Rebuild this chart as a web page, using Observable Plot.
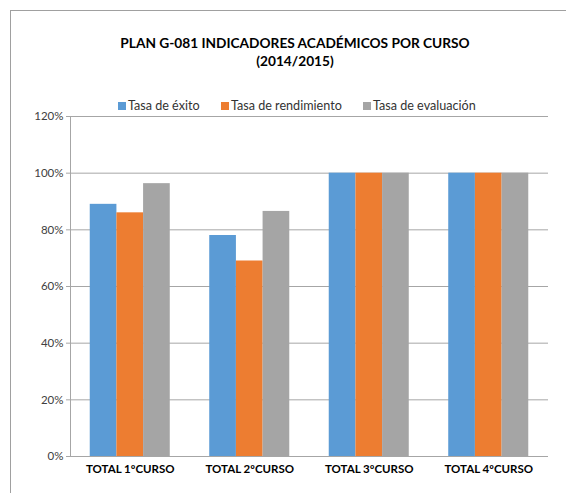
<!DOCTYPE html>
<html>
<head>
<meta charset="utf-8">
<script src="https://cdn.jsdelivr.net/npm/d3@7"></script>
<script src="https://cdn.jsdelivr.net/npm/@observablehq/plot@0.6"></script>
<style>
  html, body { margin: 0; padding: 0; background: #fff; overflow: hidden; }
  #wrap { position: relative; width: 566px; height: 493px; overflow: hidden; font-family: Lato, "Liberation Sans", sans-serif; }
  #frame { position: absolute; left: 10px; top: 10px; width: 700px; height: 700px; border: 1px solid #a0a0a0; box-sizing: border-box; }
  #title { position: absolute; left: 0; width: 590px; top: 34px; text-align: center; font-weight: bold; font-size: 13.7px; line-height: 18px; color: #000; }
  #legend { position: absolute; top: 98px; left: 0; width: 566px; height: 16px; font-size: 12.6px; color: #333; }
  .li { position: absolute; top: 0; white-space: nowrap; line-height: 16px; }
  .sw { display: inline-block; width: 8px; height: 8px; margin-right: 2px; }
  .layer { position: absolute; left: 0; top: 108px; }
</style>
</head>
<body>
<div id="wrap">
  <div id="frame"></div>
  <div id="title">PLAN G-081 INDICADORES ACADÉMICOS POR CURSO<br>(2014/2015)</div>
  <div id="legend"></div>
  <div id="bg" class="layer"></div>
  <div id="fg" class="layer"></div>
</div>
<script>
const courses = ["TOTAL 1ºCURSO", "TOTAL 2ºCURSO", "TOTAL 3ºCURSO", "TOTAL 4ºCURSO"];
const series = ["Tasa de éxito", "Tasa de rendimiento", "Tasa de evaluación"];
const exito = [89, 78, 100, 100];
const rendimiento = [86, 69, 100, 100];
const evaluacion = [96.3, 86.5, 100, 100];
const colors = ["#5b9bd5", "#ed7d31", "#a5a5a5"];
const yTicks = [0, 20, 40, 60, 80, 100, 120];

const valuesBySeries = [exito, rendimiento, evaluacion];
const data = [];
courses.forEach((c, i) => {
  series.forEach((s, j) => data.push({course: c, serie: s, value: valuesBySeries[j][i]}));
});

// legend
const legendX = [118, 221, 363];
const legend = document.getElementById("legend");
series.forEach((s, j) => {
  const d = document.createElement("div");
  d.className = "li";
  d.style.left = legendX[j] + "px";
  d.innerHTML = `<span class="sw" style="background:${colors[j]}"></span>${s}`;
  legend.appendChild(d);
});

const common = {
  width: 566,
  height: 385,
  marginTop: 8,
  marginBottom: 37,
  marginLeft: 70,
  marginRight: 18,
  style: {fontFamily: 'Lato, "Liberation Sans", sans-serif', fontSize: "11px", background: "transparent"}
};

// background: gridlines, value axis, category axis
const bg = Plot.plot({
  ...common,
  x: {type: "band", domain: courses, padding: 0, round: false, label: null},
  y: {domain: [0, 120], label: null},
  marks: [
    Plot.ruleY(yTicks, {stroke: "#a6a6a6", strokeWidth: 1}),
    Plot.frame({anchor: "left", stroke: "#a6a6a6"}),
    Plot.axisY({ticks: yTicks, tickFormat: d => d + "%", tickSize: 4, tickPadding: 3, stroke: "#a6a6a6", color: "#404040", fontSize: 11.5, label: null}),
    Plot.axisX({tickSize: 0, tickPadding: 8, fontWeight: "bold", fontSize: 11.5, color: "#000", label: null})
  ]
});
document.getElementById("bg").appendChild(bg);

// foreground: clustered bars
const fg = Plot.plot({
  ...common,
  fx: {domain: courses, padding: 0, round: false, axis: null, label: null},
  x: {domain: series, paddingInner: 0, paddingOuter: 0.74, round: false, axis: null},
  y: {domain: [0, 120], axis: null},
  color: {domain: series, range: colors},
  marks: [
    Plot.barY(data, {fx: "course", x: "serie", y: "value", fill: "serie", inset: 0})
  ]
});
document.getElementById("fg").appendChild(fg);
</script>
</body>
</html>
